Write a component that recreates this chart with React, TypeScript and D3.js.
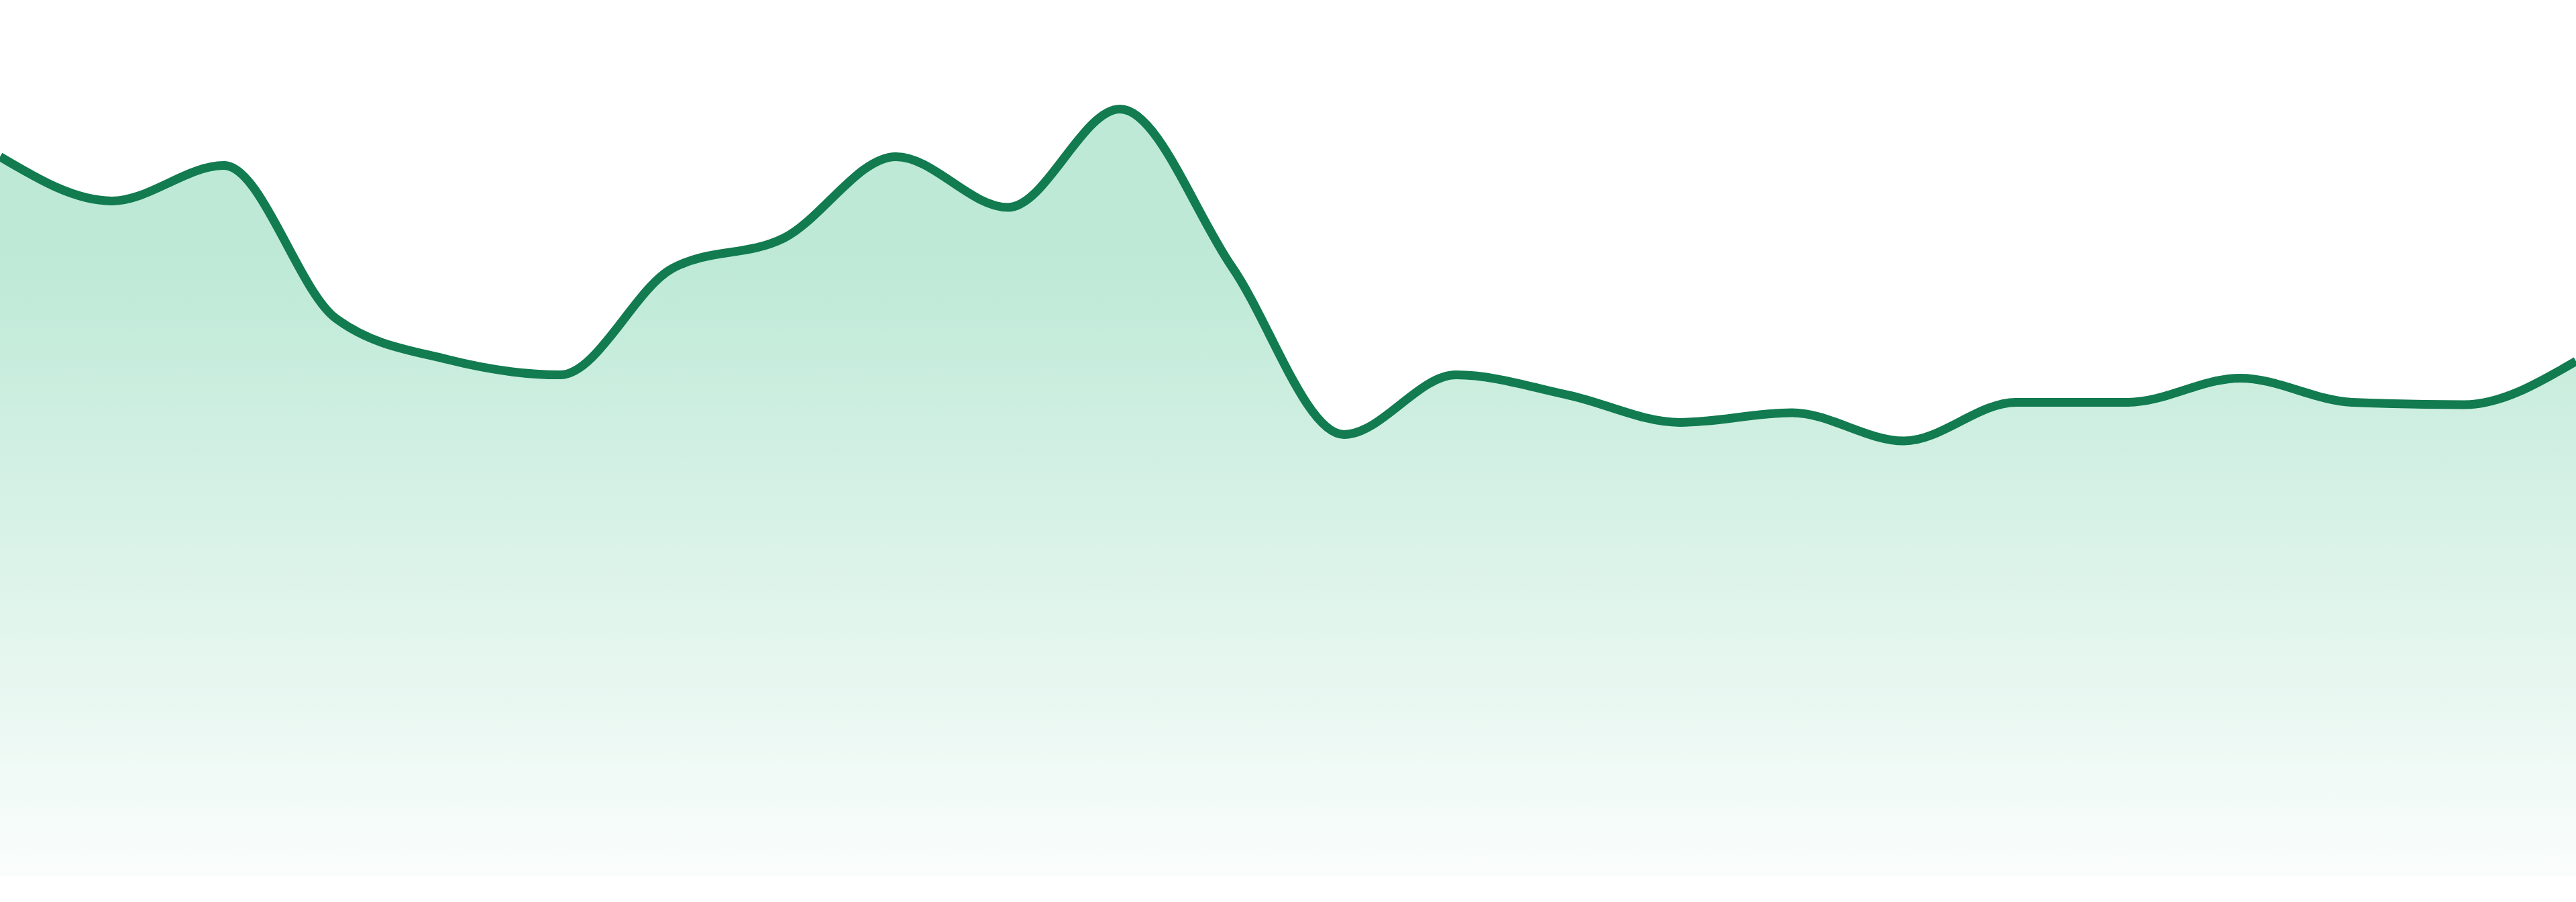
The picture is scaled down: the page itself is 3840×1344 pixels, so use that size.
import { useRef, useEffect } from "react";
import * as d3 from "d3";

const WIDTH = 3840;
const HEIGHT = 1344;
const TOP = 105;
const BOTTOM = 1305;

const LINE_COLOR = "#127b50";

// one value per period
const PERIODS = [
  "P01", "P02", "P03", "P04", "P05", "P06", "P07", "P08",
  "P09", "P10", "P11", "P12", "P13", "P14", "P15", "P16",
  "P17", "P18", "P19", "P20", "P21", "P22", "P23", "P24",
];

const VALUES = [
  89.3, 83.8, 88.2, 69.2, 64.1, 62.2, 75.4, 79.2,
  89.3, 83.0, 95.2, 75.6, 54.8, 62.2, 59.7, 56.3,
  57.5, 54.0, 58.8, 58.8, 61.8, 58.8, 58.5, 63.9,
];

const Y_DOMAIN = [0, 100];

const App = () => {
  const svgRef = useRef<SVGSVGElement>(null);

  useEffect(() => {
    const svg = d3.select(svgRef.current);
    svg.selectAll("*").remove();

    const data = PERIODS.map((p, i) => ({ p, v: VALUES[i] }));

    const x = d3.scalePoint<string>().domain(PERIODS).range([0, WIDTH]);
    const y = d3.scaleLinear().domain(Y_DOMAIN).range([BOTTOM, TOP]);

    const defs = svg.append("defs");
    const grad = defs.append("linearGradient")
      .attr("id", "fillGrad")
      .attr("gradientUnits", "userSpaceOnUse")
      .attr("x1", 0).attr("x2", 0)
      .attr("y1", 370).attr("y2", BOTTOM);
    grad.append("stop").attr("offset", 0).attr("stop-color", "#bde9d6");
    grad.append("stop").attr("offset", 1).attr("stop-color", "#fafdfc");

    const area = d3.area<{ p: string; v: number }>()
      .x(d => x(d.p)!)
      .y0(y(0))
      .y1(d => y(d.v))
      .curve(d3.curveMonotoneX);

    const line = d3.line<{ p: string; v: number }>()
      .x(d => x(d.p)!)
      .y(d => y(d.v))
      .curve(d3.curveMonotoneX);

    svg.append("path")
      .datum(data)
      .attr("d", area)
      .attr("fill", "url(#fillGrad)");

    svg.append("path")
      .datum(data)
      .attr("d", line)
      .attr("fill", "none")
      .attr("stroke", LINE_COLOR)
      .attr("stroke-width", 13)
      .attr("stroke-linejoin", "round");
  }, []);

  return (
    <svg
      ref={svgRef}
      width={WIDTH}
      height={HEIGHT}
      style={{ position: "absolute", left: 0, top: 0, background: "#ffffff" }}
    />
  );
};

export default App;
